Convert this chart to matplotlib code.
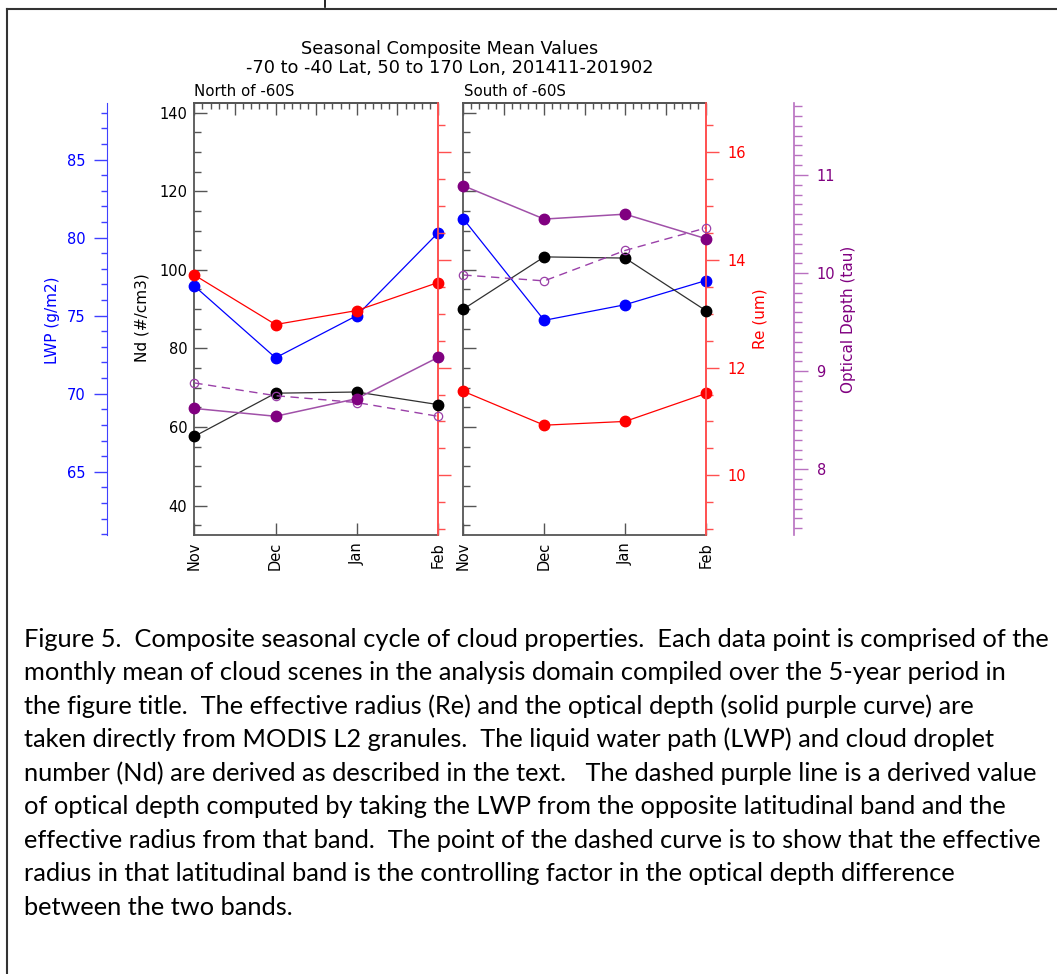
import numpy as np
import matplotlib
matplotlib.use("Agg")
import matplotlib.pyplot as plt
from matplotlib.ticker import MultipleLocator
from matplotlib.lines import Line2D

# --- data ---
months = ["Nov", "Dec", "Jan", "Feb"]

north_lwp = [76.9, 72.3, 75.0, 80.3]
north_nd = [57.6, 68.6, 68.9, 65.7]
north_re = [13.72, 12.80, 13.06, 13.58]
north_tau = [8.62, 8.54, 8.72, 9.14]
north_tau_derived = [8.88, 8.75, 8.68, 8.54]

south_lwp = [81.2, 74.7, 75.7, 77.25]
south_nd = [90.0, 103.3, 103.0, 89.6]
south_re = [11.56, 10.93, 11.0, 11.52]
south_tau = [10.89, 10.55, 10.60, 10.35]
south_tau_derived = [9.98, 9.92, 10.23, 10.46]

caption = [
    "Figure 5.  Composite seasonal cycle of cloud properties.  Each data point is comprised of the",
    "monthly mean of cloud scenes in the analysis domain compiled over the 5-year period in",
    "the figure title.  The effective radius (Re) and the optical depth (solid purple curve) are",
    "taken directly from MODIS L2 granules.  The liquid water path (LWP) and cloud droplet",
    "number (Nd) are derived as described in the text.   The dashed purple line is a derived value",
    "of optical depth computed by taking the LWP from the opposite latitudinal band and the",
    "effective radius from that band.  The point of the dashed curve is to show that the effective",
    "radius in that latitudinal band is the controlling factor in the optical depth difference",
    "between the two bands.",
]

W, H = 1057, 974
plt.rcParams["font.family"] = "DejaVu Sans"
fig = plt.figure(figsize=(W / 100, H / 100), dpi=100)

FRAME = "#555555"
BLUE = "#0000ff"
RED = "#ff0000"
PURPLE = "#800080"
PURPLE_LINE = "#a050a8"
PURPLE_AX = "#b870c0"

x = np.arange(len(months))
ND_LIM = (32.5, 142.4)
LWP_LIM = (60.95, 88.6)
RE_LIM = (8.89, 16.91)
TAU_LIM = (7.33, 11.73)

def fx(px):
    return px / W

def fy(py):
    return 1 - py / H

def make_panel(left_px, right_px, lwp, nd, re, tau, tau_d, left_side):
    top_px, bot_px = 103.3, 535.0
    ax = fig.add_axes([fx(left_px), fy(bot_px), fx(right_px - left_px), (bot_px - top_px) / H])
    ax.set_xlim(0, 3)
    ax.set_ylim(*ND_LIM)
    for s in ["left", "top", "bottom"]:
        ax.spines[s].set_color(FRAME)
        ax.spines[s].set_linewidth(1.3)
    ax.spines["right"].set_color("#ff5050")
    ax.spines["right"].set_linewidth(1.2)

    ax.set_xticks(x)
    ax.set_xticklabels(months, rotation=90, fontsize=10.5)
    ax.tick_params(axis="x", direction="in", length=9, width=1, color=FRAME,
                   top=False, pad=5)
    ax.yaxis.set_major_locator(MultipleLocator(20))
    ax.yaxis.set_minor_locator(MultipleLocator(5))
    ax.tick_params(axis="y", which="major", direction="in", length=9.5, width=1,
                   color=FRAME, right=False, labelleft=left_side, labelsize=10.5, pad=5)
    ax.tick_params(axis="y", which="minor", direction="in", length=5, width=1,
                   color=FRAME, right=False)

    sec = ax.secondary_xaxis("top")
    sec.set_xticks(np.arange(0, 3.01, 0.5))
    sec.xaxis.set_minor_locator(MultipleLocator(0.1))
    sec.tick_params(axis="x", which="major", direction="in", length=8.5, width=1,
                    color=FRAME, labeltop=False)
    sec.tick_params(axis="x", which="minor", direction="in", length=4.2, width=1,
                    color=FRAME)
    sec.spines["top"].set_color(FRAME)
    sec.spines["top"].set_linewidth(1.3)

    # LWP
    ax_lwp = ax.twinx()
    ax_lwp.set_ylim(*LWP_LIM)
    for s in ax_lwp.spines.values():
        s.set_visible(False)
    if left_side:
        ax_lwp.spines["left"].set_visible(True)
        ax_lwp.spines["left"].set_position(("axes", (106.7 - left_px) / (right_px - left_px)))
        ax_lwp.spines["left"].set_color("#4040ff")
        ax_lwp.yaxis.set_ticks_position("left")
        ax_lwp.yaxis.set_major_locator(MultipleLocator(5))
        ax_lwp.yaxis.set_minor_locator(MultipleLocator(1))
        ax_lwp.tick_params(axis="y", which="major", direction="out", length=9.5, width=1,
                           color="#4040ff", labelcolor=BLUE, labelsize=10.5, pad=6)
        ax_lwp.tick_params(axis="y", which="minor", direction="out", length=4.5, width=1,
                           color="#4040ff")
    else:
        ax_lwp.set_yticks([])
    ax_lwp.plot(x, lwp, color=BLUE, lw=0.9, marker="o", ms=7.5, clip_on=False)

    # Re
    ax_re = ax.twinx()
    ax_re.set_ylim(*RE_LIM)
    for s in ["left", "top", "bottom"]:
        ax_re.spines[s].set_visible(False)
    ax_re.spines["right"].set_color("#ff5050")
    ax_re.spines["right"].set_linewidth(1.2)
    ax_re.yaxis.set_major_locator(MultipleLocator(2))
    ax_re.yaxis.set_minor_locator(MultipleLocator(0.5))
    ax_re.tick_params(axis="y", which="major", direction="out", length=9.5, width=1,
                      color="#ff5050", labelcolor=RED, labelsize=10.5, pad=6,
                      labelright=not left_side)
    ax_re.tick_params(axis="y", which="minor", direction="out", length=5, width=1,
                      color="#ff5050")
    ax_re.plot(x, re, color=RED, lw=0.9, marker="o", ms=7.5, clip_on=False)

    # Nd (black) drawn above blue/red
    ax_nd = ax.twinx()
    ax_nd.set_ylim(*ND_LIM)
    ax_nd.set_yticks([])
    for s in ax_nd.spines.values():
        s.set_visible(False)
    ax_nd.plot(x, nd, color="#303030", lw=0.9, marker="o", mfc="black", mec="black",
               ms=7.5, clip_on=False)

    # optical depth
    ax_tau = ax.twinx()
    ax_tau.set_ylim(*TAU_LIM)
    for s in ax_tau.spines.values():
        s.set_visible(False)
    if not left_side:
        ax_tau.spines["right"].set_visible(True)
        ax_tau.spines["right"].set_position(("axes", (794.3 - left_px) / (right_px - left_px)))
        ax_tau.spines["right"].set_color(PURPLE_AX)
        ax_tau.spines["right"].set_linewidth(1.2)
        ax_tau.yaxis.set_major_locator(MultipleLocator(1))
        ax_tau.yaxis.set_minor_locator(MultipleLocator(0.1))
        ax_tau.tick_params(axis="y", which="major", direction="out", length=10, width=1,
                           color=PURPLE_AX, labelcolor=PURPLE, labelsize=10.5, pad=6)
        ax_tau.tick_params(axis="y", which="minor", direction="out", length=5.5, width=1,
                           color=PURPLE_AX)
    else:
        ax_tau.set_yticks([])
    ax_tau.plot(x, tau_d, color="#9a40a8", lw=1.0, ls=(0, (6, 4)), marker="o", ms=6,
                mfc="none", mec="#9a40a8", mew=0.9, clip_on=False)
    ax_tau.plot(x, tau, color=PURPLE_LINE, lw=1.1, marker="o", ms=7.5,
                mfc=PURPLE, mec=PURPLE, clip_on=False)
    return ax


make_panel(194.3, 438.0, north_lwp, north_nd, north_re, north_tau, north_tau_derived, True)
make_panel(463.3, 706.0, south_lwp, south_nd, south_re, south_tau, south_tau_derived, False)

# titles and labels
fig.text(fx(450), fy(49), "Seasonal Composite Mean Values", ha="center", va="center", fontsize=12.7)
fig.text(fx(450), fy(68), "-70 to -40 Lat, 50 to 170 Lon, 201411-201902", ha="center", va="center", fontsize=12.8)
fig.text(fx(194), fy(91), "North of -60S", ha="left", va="center", fontsize=10.8)
fig.text(fx(464), fy(91), "South of -60S", ha="left", va="center", fontsize=10.8)

fig.text(fx(52), fy(320), "LWP (g/m2)", rotation=90, ha="center", va="center", color=BLUE, fontsize=11)
fig.text(fx(142), fy(318), "Nd (#/cm3)", rotation=90, ha="center", va="center", color="black", fontsize=11)
fig.text(fx(760), fy(319), "Re (um)", rotation=90, ha="center", va="center", color=RED, fontsize=11)
fig.text(fx(848), fy(319), "Optical Depth (tau)", rotation=90, ha="center", va="center", color=PURPLE, fontsize=11)

# caption, sized so the first line spans the page width
renderer = fig.canvas.get_renderer()
probe = fig.text(0, 0, caption[0], fontsize=20, family=["Lato", "DejaVu Sans"])
wpx = probe.get_window_extent(renderer).width
probe.remove()
cap_fs = 20 * 1024 / wpx
for i, line in enumerate(caption):
    fig.text(fx(24), fy(646.7 + i * 33.5), line, ha="left", va="baseline",
             fontsize=cap_fs, family=["Lato", "DejaVu Sans"], color="black")

# page frame
fig.add_artist(Line2D([fx(7), fx(7)], [fy(9), 0], color="#333333", lw=1.5))
fig.add_artist(Line2D([fx(7), 1], [fy(9), fy(9)], color="#333333", lw=1.5))
fig.add_artist(Line2D([fx(325), fx(325)], [1, fy(7)], color="black", lw=1.2))

fig.savefig("out.png", dpi=100)
